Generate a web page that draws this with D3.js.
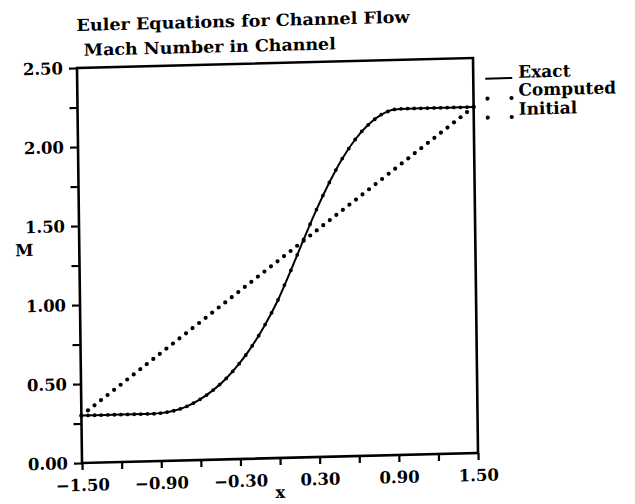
<!DOCTYPE html>
<html>
<head>
<meta charset="utf-8">
<script src="https://cdn.jsdelivr.net/npm/d3@7"></script>
<style>
body { margin: 0; background: #fff; }
text { font-family: "DejaVu Serif", serif; font-weight: bold; fill: #000; }
</style>
</head>
<body>
<svg id="chart" width="635" height="504"></svg>
<script>
// values
var exactX = [-1.5, -1.4, -1.3, -1.2, -1.1, -1.0, -0.9, -0.8, -0.7, -0.6, -0.5,
    -0.4, -0.3, -0.2, -0.1, 0.0, 0.1, 0.2, 0.3, 0.4, 0.5,
    0.6, 0.7, 0.8, 0.9, 1.0, 1.1, 1.2, 1.3, 1.4, 1.5];
var exactMach = [0.300, 0.300, 0.300, 0.300, 0.300, 0.300, 0.303, 0.316, 0.342, 0.384, 0.440,
    0.512, 0.603, 0.714, 0.846, 1.000, 1.185, 1.379, 1.566, 1.735, 1.884,
    2.003, 2.094, 2.156, 2.187, 2.190, 2.190, 2.190, 2.190, 2.190, 2.190];

var gridX = [-1.50, -1.45, -1.40, -1.35, -1.30, -1.25, -1.20, -1.15, -1.10, -1.05,
    -1.00, -0.95, -0.90, -0.85, -0.80, -0.75, -0.70, -0.65, -0.60, -0.55,
    -0.50, -0.45, -0.40, -0.35, -0.30, -0.25, -0.20, -0.15, -0.10, -0.05,
    0.00, 0.05, 0.10, 0.15, 0.20, 0.25, 0.30, 0.35, 0.40, 0.45,
    0.50, 0.55, 0.60, 0.65, 0.70, 0.75, 0.80, 0.85, 0.90, 0.95,
    1.00, 1.05, 1.10, 1.15, 1.20, 1.25, 1.30, 1.35, 1.40, 1.45, 1.50];
var computedMach = [0.300, 0.300, 0.300, 0.300, 0.300, 0.300, 0.300, 0.300, 0.300, 0.300,
    0.300, 0.300, 0.303, 0.308, 0.316, 0.327, 0.342, 0.361, 0.384, 0.410,
    0.440, 0.474, 0.512, 0.555, 0.603, 0.656, 0.714, 0.777, 0.846, 0.920,
    1.000, 1.093, 1.185, 1.283, 1.379, 1.474, 1.566, 1.653, 1.735, 1.813,
    1.884, 1.946, 2.003, 2.053, 2.094, 2.128, 2.156, 2.175, 2.187, 2.190,
    2.190, 2.190, 2.190, 2.190, 2.190, 2.190, 2.190, 2.190, 2.190, 2.190, 2.190];
var initialMach = [0.300, 0.332, 0.363, 0.395, 0.426, 0.458, 0.489, 0.521, 0.552, 0.584,
    0.615, 0.647, 0.678, 0.710, 0.741, 0.773, 0.804, 0.836, 0.867, 0.899,
    0.930, 0.962, 0.993, 1.025, 1.056, 1.088, 1.119, 1.151, 1.182, 1.214,
    1.245, 1.277, 1.308, 1.340, 1.371, 1.403, 1.434, 1.466, 1.497, 1.529,
    1.560, 1.592, 1.623, 1.655, 1.686, 1.718, 1.749, 1.781, 1.812, 1.844,
    1.875, 1.907, 1.938, 1.970, 2.001, 2.033, 2.064, 2.096, 2.127, 2.159, 2.190];

var xTicks = [-1.5, -1.2, -0.9, -0.6, -0.3, 0, 0.3, 0.6, 0.9, 1.2, 1.5];
var xLabels = ["\u22121.50", "", "\u22120.90", "", "\u22120.30", "", "0.30", "", "0.90", "", "1.50"];
var yTicks = [0, 0.25, 0.5, 0.75, 1.0, 1.25, 1.5, 1.75, 2.0, 2.25, 2.5];
var yLabels = ["0.00", "", "0.50", "", "1.00", "", "1.50", "", "2.00", "", "2.50"];
var titles = ["Euler Equations for Channel Flow", "Mach Number in Channel"];
var legendNames = ["Exact", "Computed", "Initial"];

var w = 396, h = 395;

var svg = d3.select("#chart");
svg.append("rect").attr("width", 635).attr("height", 504).attr("fill", "#fff");

// the scan is slightly skewed, so the whole plot sits in a sheared group
var g = svg.append("g")
    .attr("transform", "matrix(1,-0.0253,0.0127,1,77,68)");

var x = d3.scaleLinear().domain([-1.5, 1.5]).range([0, w]);
var y = d3.scaleLinear().domain([0, 2.5]).range([h, 0]);

// titles
g.append("text").attr("x", 0).attr("y", -37)
    .attr("font-size", 16.5)
    .attr("textLength", 333).attr("lengthAdjust", "spacingAndGlyphs")
    .text(titles[0]);
g.append("text").attr("x", 7).attr("y", -12)
    .attr("font-size", 16.5)
    .attr("textLength", 252).attr("lengthAdjust", "spacingAndGlyphs")
    .text(titles[1]);

// axes
var xAxis = d3.axisBottom(x)
    .tickValues(xTicks)
    .tickSizeInner(7).tickSizeOuter(0)
    .tickFormat(function(d, i) { return xLabels[i]; });
var yAxis = d3.axisLeft(y)
    .tickValues(yTicks)
    .tickSizeInner(8).tickSizeOuter(0).tickPadding(6)
    .tickFormat(function(d, i) { return yLabels[i]; });

var gx = g.append("g").attr("transform", "translate(0," + h + ")").call(xAxis);
var gy = g.append("g").call(yAxis);

[gx, gy].forEach(function(a) {
    a.select(".domain").remove();
    a.selectAll(".tick line").attr("stroke", "#000").attr("stroke-width", 2.2);
    a.selectAll(".tick text")
        .attr("font-family", "DejaVu Serif")
        .attr("font-weight", "bold")
        .attr("font-size", 16.5)
        .attr("fill", "#000");
});
gx.selectAll(".tick text").attr("y", 28).attr("dy", 0);

// frame
g.append("rect")
    .attr("width", w).attr("height", h)
    .attr("fill", "none").attr("stroke", "#000").attr("stroke-width", 2.6);

// axis titles
g.append("text").attr("x", x(0)).attr("y", 435)
    .attr("text-anchor", "middle").attr("font-size", 16.5).text("x");
g.append("text").attr("x", -55).attr("y", y(1.355)).attr("dy", "0.35em")
    .attr("text-anchor", "middle").attr("font-size", 16.5).text("M");

// exact solution
var exactData = exactX.map(function(d, i) { return [d, exactMach[i]]; });
g.append("path")
    .datum(exactData)
    .attr("fill", "none").attr("stroke", "#000").attr("stroke-width", 2)
    .attr("d", d3.line()
        .x(function(d) { return x(d[0]); })
        .y(function(d) { return y(d[1]); })
        .curve(d3.curveMonotoneX));

// computed points
g.append("g").selectAll("circle")
    .data(gridX)
    .enter().append("circle")
    .attr("cx", function(d) { return x(d); })
    .attr("cy", function(d, i) { return y(computedMach[i]); })
    .attr("r", 1.9)
    .attr("fill", "#000");

// initial condition
g.append("g").selectAll("circle")
    .data(gridX)
    .enter().append("circle")
    .attr("cx", function(d) { return x(d); })
    .attr("cy", function(d, i) { return y(initialMach[i]); })
    .attr("r", 2.1)
    .attr("fill", "#000");

// legend
var legend = g.append("g").attr("transform", "translate(408,0)");
var rowY = [21, 39, 58];
legendNames.forEach(function(name, i) {
    if (i === 0) {
        legend.append("line")
            .attr("x1", 0).attr("x2", 27)
            .attr("y1", rowY[i]).attr("y2", rowY[i])
            .attr("stroke", "#000").attr("stroke-width", 2);
    } else {
        [2, 26].forEach(function(cx) {
            legend.append("circle")
                .attr("cx", cx).attr("cy", rowY[i] + 2)
                .attr("r", 2.1).attr("fill", "#000");
        });
    }
    legend.append("text")
        .attr("x", 33).attr("y", rowY[i])
        .attr("font-size", 17)
        .text(name);
});
</script>
</body>
</html>
